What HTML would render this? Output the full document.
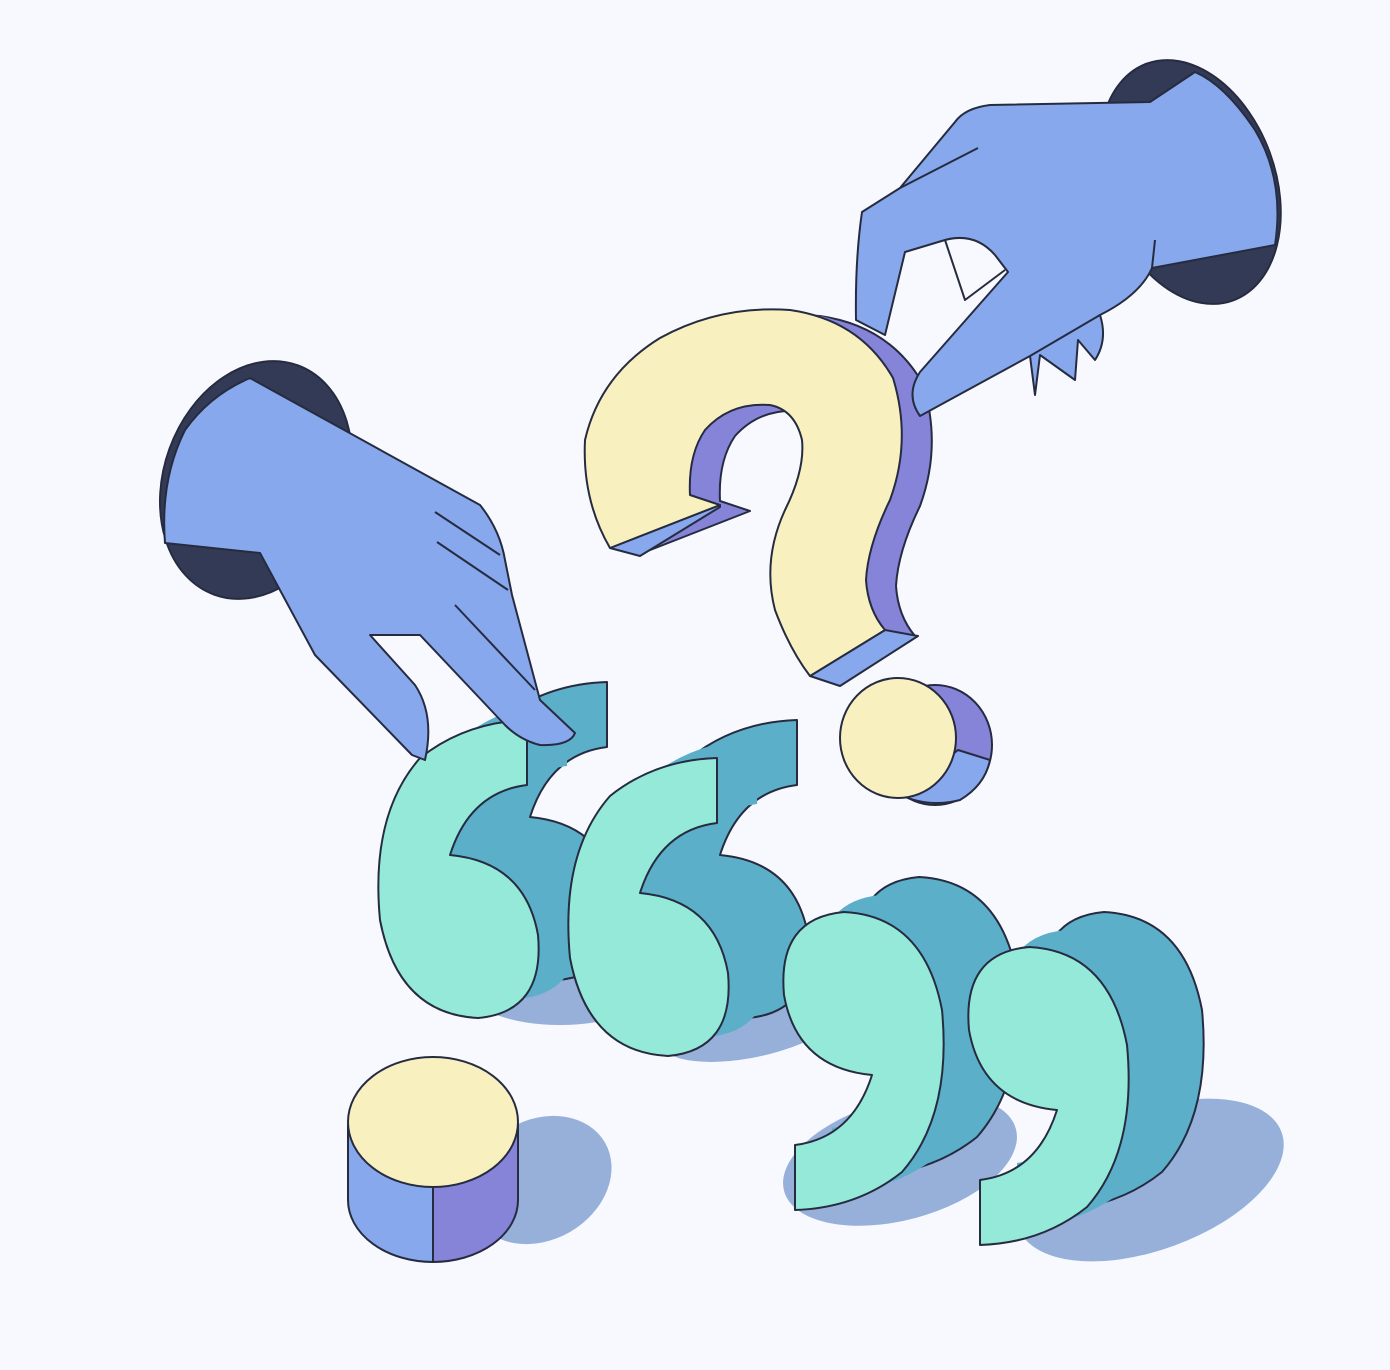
<!DOCTYPE html>
<html><head><meta charset="utf-8"><style>html,body{margin:0;padding:0;background:#f7f9fe}svg{display:block}</style></head>
<body>
<svg width="1390" height="1370" viewBox="0 0 1390 1370">
<defs>
<path id="six" d="M527,720 L527,785 Q470,792 450,855 Q525,862 538,935 Q545,1012 478,1018 Q398,1014 380,920 Q370,815 420,758 Q465,722 527,720 Z"/>
<path id="qm" d="M610,548 Q582,500 585,440 Q600,375 660,338 Q720,305 790,310 Q860,320 893,378 Q912,440 890,500 Q868,545 866,580 Q868,610 885,630 L810,676 Q790,650 775,610 Q762,560 785,510 Q805,470 802,440 Q795,410 770,405 Q730,402 705,430 Q688,455 690,495 L720,505 Z"/>
</defs>
<rect width="1390" height="1370" fill="#f7f9fe"/>
<g fill="#96b0da">
<ellipse cx="560" cy="990" rx="90" ry="35"/>
<ellipse cx="760" cy="1010" rx="110" ry="45" transform="rotate(-15 760 1010)"/>
<ellipse cx="900" cy="1160" rx="120" ry="60" transform="rotate(-15 900 1160)"/>
<ellipse cx="1150" cy="1180" rx="140" ry="70" transform="rotate(-20 1150 1180)"/>
<ellipse cx="540" cy="1180" rx="75" ry="60" transform="rotate(-30 540 1180)"/>
</g>
<g stroke="#262b40" stroke-width="2" stroke-linejoin="round">
<g>
<use href="#six" fill="#5cafc9" transform="translate(80,-38)"/>
<use href="#six" fill="#5cafc9" transform="translate(40,-19)" stroke="none"/>
<use href="#six" fill="#94e9d8"/>
</g>
<g transform="translate(190,38)">
<use href="#six" fill="#5cafc9" transform="translate(80,-38)"/>
<use href="#six" fill="#5cafc9" transform="translate(40,-19)" stroke="none"/>
<use href="#six" fill="#94e9d8"/>
</g>
<g>
<use href="#six" fill="#5cafc9" transform="translate(75,-35) translate(1322,1930) scale(-1)"/>
<use href="#six" fill="#5cafc9" stroke="none" transform="translate(37,-17) translate(1322,1930) scale(-1)"/>
<use href="#six" fill="#94e9d8" transform="translate(1322,1930) scale(-1)"/>
</g>
<g transform="translate(185,35)">
<use href="#six" fill="#5cafc9" transform="translate(75,-35) translate(1322,1930) scale(-1)"/>
<use href="#six" fill="#5cafc9" stroke="none" transform="translate(37,-17) translate(1322,1930) scale(-1)"/>
<use href="#six" fill="#94e9d8" transform="translate(1322,1930) scale(-1)"/>
</g>
</g>
<g stroke="#262b40" stroke-width="2" stroke-linejoin="round">
<path d="M348,1125 L348,1200 A85,62 0 0 0 433,1262 L433,1125 Z" fill="#87a8ec"/>
<path d="M433,1125 L433,1262 A85,62 0 0 0 518,1200 L518,1125 Z" fill="#8584d9"/>
<ellipse cx="433" cy="1122" rx="85" ry="65" fill="#f9f0c0"/>
</g>
<g stroke="#262b40" stroke-width="2" stroke-linejoin="round">
<use href="#qm" fill="#8584d9" transform="translate(30,6)"/>
<use href="#qm" fill="#8584d9" stroke="none" transform="translate(15,3)"/>
<path d="M610,548 L640,556 L720,507 L720,505 Z M810,676 L840,686 L918,636 L885,630 Z" fill="#87a8ec"/>
<use href="#qm" fill="#f9f0c0"/>
<ellipse cx="935" cy="745" rx="57" ry="60" fill="#8584d9"/>
<path d="M900,795 Q930,808 960,800 Q985,785 990,760 L958,750 Z" fill="#87a8ec"/>
<ellipse cx="898" cy="738" rx="58" ry="60" fill="#f9f0c0"/>
</g>
<g stroke="#262b40" stroke-width="2" stroke-linejoin="round">
<ellipse cx="256" cy="480" rx="92" ry="122" transform="rotate(20 256 480)" fill="#333a55"/>
<path d="M250,378 L480,505 Q500,530 505,560 L512,595 L540,700 L575,733 Q570,746 540,745 Q520,740 505,725 L420,635 L370,635 L415,685 Q435,715 425,760 L412,755 L315,655 L260,553 L165,543 Q160,480 185,430 Q210,395 250,378 Z" fill="#87a8ec"/>
<path d="M435,512 L500,555 M437,542 L508,590 M455,605 L535,690" fill="none"/>
</g>
<g stroke="#262b40" stroke-width="2" stroke-linejoin="round">
<ellipse cx="1190" cy="182" rx="85" ry="126" transform="rotate(-20 1190 182)" fill="#333a55"/>
<path d="M1150,102 L990,105 Q965,108 955,122 L900,188 L862,212 Q855,260 856,320 L885,335 L905,252 L945,240 Q975,232 995,255 L1008,272 L920,372 Q905,395 920,416 L1030,356 L1035,395 L1040,355 L1075,380 L1078,340 L1095,360 Q1108,340 1100,315 Q1140,295 1152,268 L1275,245 Q1285,180 1255,130 Q1225,85 1195,72 Z" fill="#87a8ec"/>
<path d="M978,148 L900,188 M945,240 L965,300 L1005,270 M1100,315 L1030,356 M1152,268 L1155,240" fill="none"/>
</g>
</svg>
</body></html>
